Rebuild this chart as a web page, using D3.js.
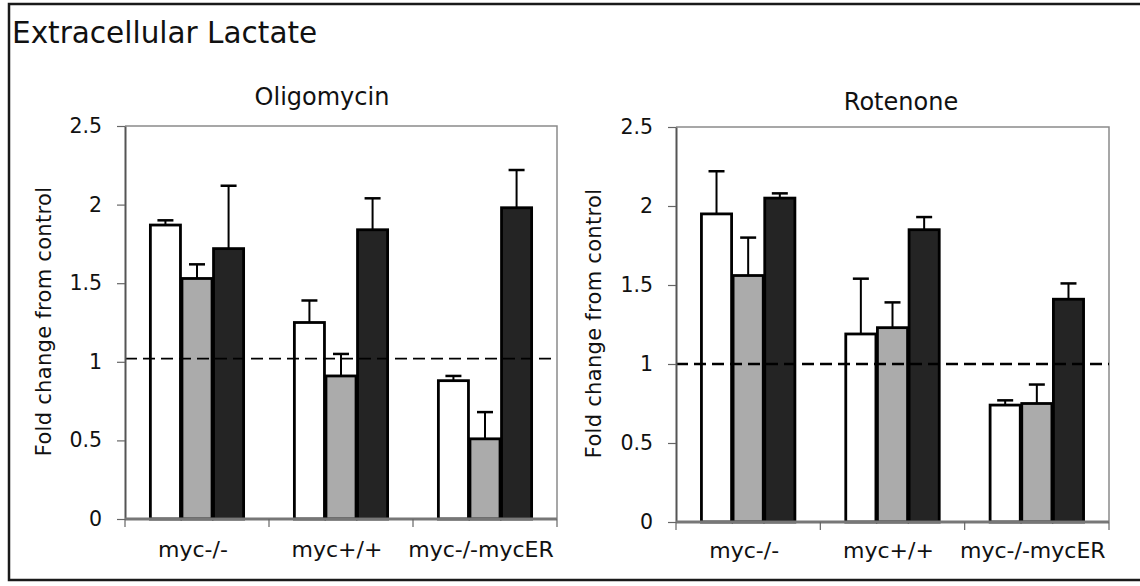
<!DOCTYPE html>
<meta charset="utf-8">
<svg width="1140" height="586"></svg>
<script src="https://cdn.jsdelivr.net/npm/d3@7"></script>
<style>
  body { margin: 0; background: #fff; }
  svg { display: block; }
  text { font-family: 'DejaVu Sans', sans-serif; fill: #111; }
</style>
<script>
var categories = ["myc-/-", "myc+/+", "myc-/-mycER"];
var seriesKeys = ["a", "b", "c"];
var seriesFill = ["#ffffff", "#ababab", "#242424"];
var yTicks = [0, 0.5, 1, 1.5, 2, 2.5];

// Oligomycin: bar heights per category (white, gray, black) and error bar size
var oligoMean = [[1.87, 1.53, 1.72], [1.25, 0.91, 1.84], [0.88, 0.51, 1.98]];
var oligoErr  = [[0.03, 0.09, 0.40], [0.14, 0.14, 0.20], [0.03, 0.17, 0.24]];

// Rotenone
var rotMean = [[1.95, 1.56, 2.05], [1.19, 1.23, 1.85], [0.74, 0.75, 1.41]];
var rotErr  = [[0.27, 0.24, 0.03], [0.35, 0.16, 0.08], [0.03, 0.12, 0.10]];

var svg = d3.select("svg");

// outer frame
svg.append("rect")
    .attr("x", 9).attr("y", 4)
    .attr("width", 1150).attr("height", 576)
    .attr("fill", "none").attr("stroke", "#1a1a1a").attr("stroke-width", 2.5);

svg.append("text")
    .attr("x", 12).attr("y", 43)
    .style("font-size", "29.5px")
    .text("Extracellular Lactate");

function drawPanel(p) {
  var x = d3.scaleBand().domain(categories).range([p.x0, p.x1]).padding(0);
  var xi = d3.scaleBand().domain(seriesKeys).range([0, x.bandwidth()])
      .paddingInner(0).paddingOuter(0.78);
  var y = d3.scaleLinear().domain([0, 2.5]).range([p.y0, p.y1]);

  var g = svg.append("g");

  // plot box (top and right)
  g.append("path")
      .attr("d", "M" + p.x0 + "," + y(2.5) + "H" + p.x1 + "V" + y(0))
      .attr("fill", "none").attr("stroke", "#8a8a8a").attr("stroke-width", 1.5);

  var rows = [];
  categories.forEach(function(c, i) {
    seriesKeys.forEach(function(s, j) {
      rows.push({cat: c, key: s, fill: seriesFill[j], v: p.mean[i][j], e: p.err[i][j]});
    });
  });

  g.selectAll("rect.bar").data(rows).enter().append("rect")
      .attr("class", "bar")
      .attr("x", function(d) { return x(d.cat) + xi(d.key) + 0.75; })
      .attr("width", xi.bandwidth() - 1.5)
      .attr("y", function(d) { return y(d.v); })
      .attr("height", function(d) { return y(0) - y(d.v); })
      .attr("fill", function(d) { return d.fill; })
      .attr("stroke", "#000").attr("stroke-width", 2.8);

  // error bars (upper only)
  var eb = g.selectAll("g.err").data(rows).enter().append("g").attr("class", "err");
  eb.append("line")
      .attr("x1", function(d) { return x(d.cat) + xi(d.key) + xi.bandwidth() / 2; })
      .attr("x2", function(d) { return x(d.cat) + xi(d.key) + xi.bandwidth() / 2; })
      .attr("y1", function(d) { return y(d.v); })
      .attr("y2", function(d) { return y(d.v + d.e); })
      .attr("stroke", "#000").attr("stroke-width", 2);
  eb.append("line")
      .attr("x1", function(d) { return x(d.cat) + xi(d.key) + xi.bandwidth() / 2 - 8; })
      .attr("x2", function(d) { return x(d.cat) + xi(d.key) + xi.bandwidth() / 2 + 8; })
      .attr("y1", function(d) { return y(d.v + d.e); })
      .attr("y2", function(d) { return y(d.v + d.e); })
      .attr("stroke", "#000").attr("stroke-width", 2.5);

  // reference line at control
  g.append("line")
      .attr("x1", p.x0).attr("x2", p.x1)
      .attr("y1", y(p.ref)).attr("y2", y(p.ref))
      .attr("stroke", "#000").attr("stroke-width", p.refWidth)
      .attr("stroke-dasharray", "12,6");

  // y axis
  var ya = g.append("g")
      .attr("transform", "translate(" + p.x0 + ",0)")
      .call(d3.axisLeft(y).tickValues(yTicks).tickSize(8).tickSizeOuter(0)
        .tickFormat(function(d) { return String(d); }));
  ya.select(".domain").attr("stroke", "#555").attr("stroke-width", 2);
  ya.selectAll(".tick line").attr("stroke", "#666").attr("stroke-width", 1.2);
  ya.selectAll(".tick text")
      .attr("x", -23)
      .style("font-size", "20.5px").style("font-family", "'DejaVu Sans', sans-serif")
      .attr("fill", "#111");

  // x axis line and ticks at band edges
  g.append("line")
      .attr("x1", p.x0).attr("x2", p.x1)
      .attr("y1", y(0)).attr("y2", y(0))
      .attr("stroke", "#777").attr("stroke-width", 3);
  var edges = categories.map(function(c) { return x(c); }).concat([p.x1]);
  g.selectAll("line.xt").data(edges).enter().append("line")
      .attr("class", "xt")
      .attr("x1", function(d) { return d; }).attr("x2", function(d) { return d; })
      .attr("y1", y(0)).attr("y2", y(0) + 8)
      .attr("stroke", "#666").attr("stroke-width", 1.2);

  g.selectAll("text.cat").data(categories).enter().append("text")
      .attr("class", "cat")
      .attr("x", function(d) { return x(d) + x.bandwidth() / 2 - 4; })
      .attr("y", p.catY)
      .attr("text-anchor", "middle")
      .style("font-size", "22px")
      .text(function(d) { return d; });

  g.append("text")
      .attr("transform", "translate(" + p.labelX + "," + ((p.y0 + p.y1) / 2 - 1) + ") rotate(-90)")
      .attr("text-anchor", "middle")
      .style("font-size", "21px")
      .style("letter-spacing", "0.3px")
      .text("Fold change from control");

  g.append("text")
      .attr("x", p.titleX).attr("y", p.titleY)
      .attr("text-anchor", "middle")
      .style("font-size", "24px")
      .text(p.title);
}

drawPanel({
  title: "Oligomycin", titleX: 322, titleY: 105,
  x0: 125, x1: 557, y0: 519, y1: 126,
  mean: oligoMean, err: oligoErr, ref: 1.02, refWidth: 1.6,
  catY: 557, labelX: 51
});

drawPanel({
  title: "Rotenone", titleX: 901, titleY: 110,
  x0: 676, x1: 1109, y0: 522, y1: 127,
  mean: rotMean, err: rotErr, ref: 1.0, refWidth: 2.6,
  catY: 558, labelX: 601
});
</script>
